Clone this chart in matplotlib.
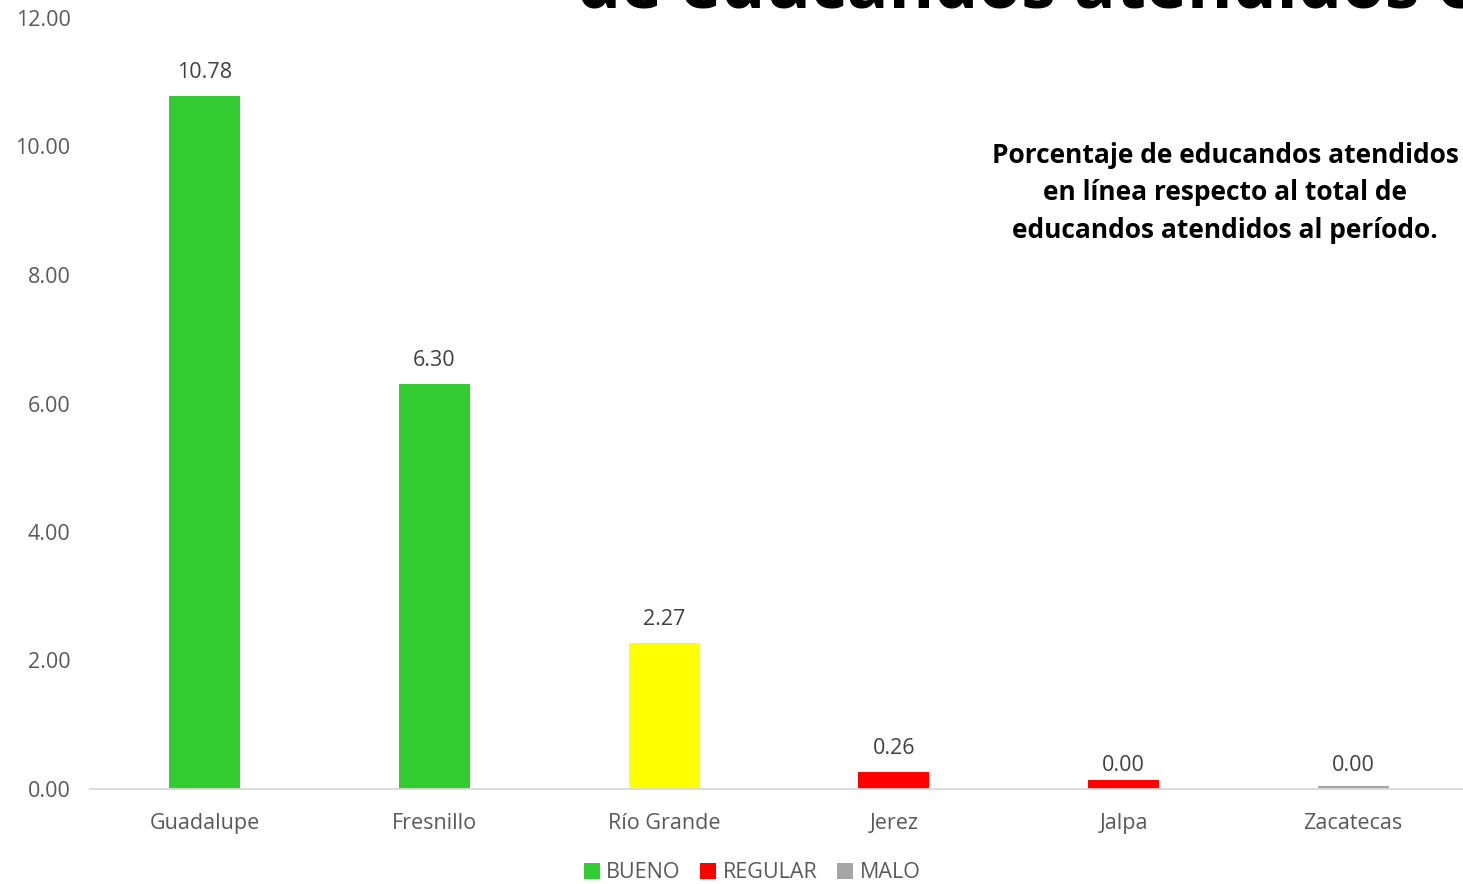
import matplotlib.pyplot as plt
from matplotlib.patches import Patch

plt.rcParams['font.family'] = ['Open Sans', 'DejaVu Sans']

# data
municipios = ['Guadalupe', 'Fresnillo', 'Río Grande', 'Jerez', 'Jalpa', 'Zacatecas']
valores = [10.78, 6.30, 2.27, 0.26, 0.14, 0.05]
etiquetas = ['10.78', '6.30', '2.27', '0.26', '0.00', '0.00']
colores_bar = ['#33CC33', '#33CC33', '#FFFF00', '#FF0000', '#FF0000', '#A5A5A5']
yticks = [0, 2, 4, 6, 8, 10, 12]
leyenda = {'BUENO': '#33CC33', 'REGULAR': '#FF0000', 'MALO': '#A5A5A5'}

fig = plt.figure(figsize=(14.63, 8.84), dpi=100)
ax = fig.add_axes([90 / 1463, 1 - 789 / 884, 1378 / 1463, 771 / 884])

x = list(range(len(municipios)))
ax.bar(x, valores, width=0.31, color=colores_bar)

# data labels above each bar (the near-zero ones share one height)
for xi, v, lab in zip(x, valores, etiquetas):
    base = v if v > 0.2 else 0
    ax.text(xi, base + 0.37, lab, ha='center', va='center', fontsize=15.5, color='#404040')

ax.set_xlim(-0.5, 5.5)
ax.set_ylim(0, 12)
ax.set_yticks(yticks)
ax.set_yticklabels(['%.2f' % t for t in yticks])
ax.set_xticks(x)
ax.set_xticklabels(municipios)
ax.tick_params(axis='both', length=0, labelsize=15.5, labelcolor='#595959')
ax.tick_params(axis='y', pad=14)
ax.tick_params(axis='x', pad=17)
for s in ['top', 'right', 'left']:
    ax.spines[s].set_visible(False)
ax.spines['bottom'].set_color('#D9D9D9')
ax.spines['bottom'].set_linewidth(1.3)

# text box on the right
fig.text(1225 / 1463, 1 - 193 / 884,
         'Porcentaje de educandos atendidos\nen línea respecto al total de\neducandos atendidos al período.',
         ha='center', va='center', fontsize=19, fontweight='bold', color='black',
         linespacing=1.5)

# big title, mostly cut off at the top edge
fig.text(577 / 1463, 1 - 8 / 884, 'de educandos atendidos en línea',
         ha='left', va='baseline', fontsize=50, fontweight='bold', color='black')

handles = [Patch(facecolor=c, label=k) for k, c in leyenda.items()]
fig.legend(handles=handles, loc='center', bbox_to_anchor=(752 / 1463, 1 - 873 / 884),
           ncol=3, frameon=False, fontsize=15.5, handlelength=0.75, handleheight=0.75,
           handletextpad=0.3, columnspacing=0.9, labelcolor='#595959')

fig.savefig('out.png', dpi=100)
